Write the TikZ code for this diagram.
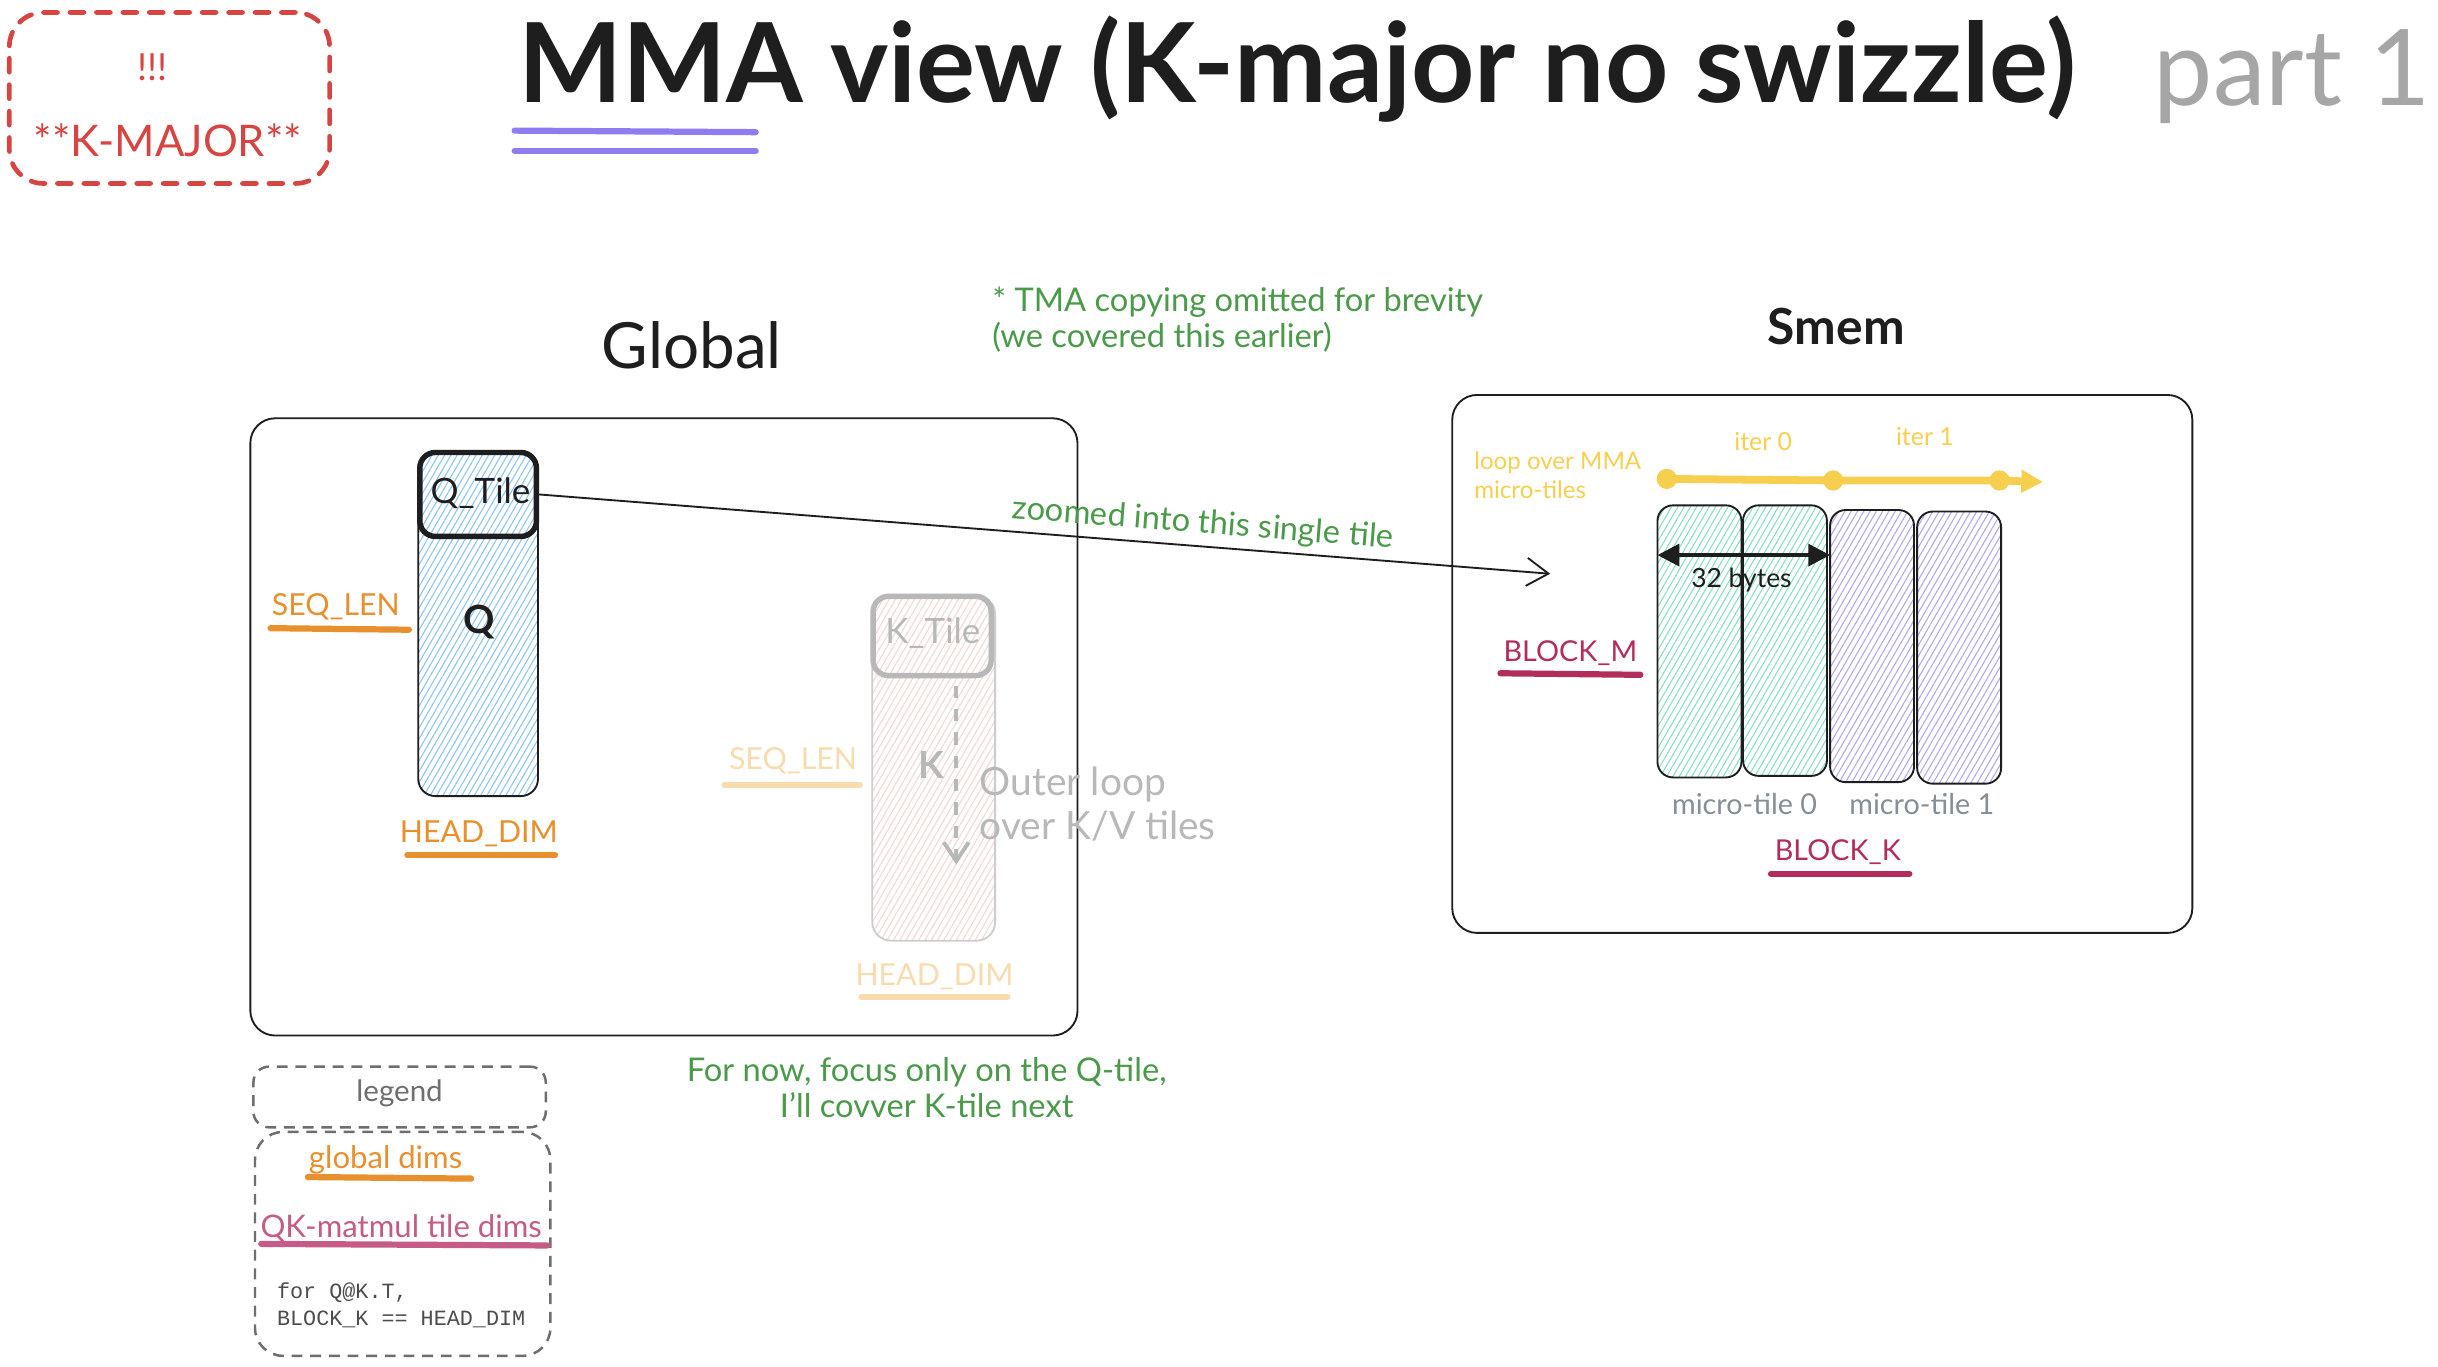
\documentclass[tikz,border=0pt]{standalone}
\usepackage{fontspec}
\setmainfont{Lato}
\newfontfamily\monof{Liberation Mono}
\usetikzlibrary{arrows.meta,patterns.meta,calc}
\definecolor{redc}{HTML}{D64541}
\definecolor{purplec}{HTML}{8E7CF0}
\definecolor{orangec}{HTML}{E8902E}
\definecolor{orangefade}{HTML}{F8DCB0}
\definecolor{crimsonc}{HTML}{B12E5C}
\definecolor{pinkc}{HTML}{C45C85}
\definecolor{greenc}{HTML}{4A9A4A}
\definecolor{yellowc}{HTML}{F7CF4F}
\definecolor{grayc}{HTML}{868E96}
\definecolor{fadec}{HTML}{B8B8B8}
\definecolor{partc}{HTML}{A6A6A6}
\definecolor{legc}{HTML}{6E6E6E}
\definecolor{inkc}{HTML}{1E1E1E}
\definecolor{hblue}{HTML}{8CC4F5}
\definecolor{hpink}{HTML}{F7D6D6}
\definecolor{hgreen}{HTML}{88E0C4}
\definecolor{hpurple}{HTML}{B2A8F2}
\newcommand\fsz[2]{\fontsize{#1}{#2}\selectfont}
\begin{document}
\begin{tikzpicture}[x=1pt,y=-1pt,
  txt/.style={inner sep=0pt, text=inkc},
  box/.style={draw=inkc, line width=1.2pt, inner sep=0pt},
  hatch/.style={pattern={Lines[angle=60,distance=3.5pt,line width=0.7pt]}, pattern color=#1},
  uline/.style={line width=4pt, line cap=round},
  thinarrow/.style={draw=inkc, line width=1.2pt, -{Straight Barb[length=14pt,width=18pt,line width=1.2pt]}},
]
\useasboundingbox[fill=white] (0,0) rectangle (1568,879);

% --- K-MAJOR box
\node[draw=redc, line width=3pt, dash pattern=on 9pt off 8pt, line cap=round, rounded corners=22pt, minimum width=206pt, minimum height=110pt] (kmajor) at (109,63) {};
\node[txt, text=redc, font=\fsz{24}{28}] (bang) at (98,43) {!!!};
\node[txt, text=redc, font=\fsz{28}{32}] (kmaj) at (108,90) {**K-MAJOR**};

% --- title
\node[txt, anchor=base west, font=\bfseries\fsz{71}{75}] (title) at (333,66) {MMA view (K-major no swizzle)};
\node[txt, anchor=base west, text=partc, font=\fsz{68}{72}] (part) at (1385,68) {part 1};
\draw[uline, draw=purplec] (331,84) -- (486,85);
\draw[uline, draw=purplec] (331,97) -- (486,97);

% --- Global
\node[txt, font=\fsz{41}{44}] (globallbl) at (445,222) {Global};
\node[box, rounded corners=16pt, minimum width=532pt, minimum height=397pt] (global) at (427,467.5) {};

% Q column
\node[box, hatch=hblue, rounded corners=11pt, minimum width=77pt, minimum height=221pt] (qcol) at (307.5,401.5) {};
\node[draw=inkc, line width=3.5pt, rounded corners=10pt, minimum width=75pt, minimum height=54pt, inner sep=0pt] (qtile) at (307.5,318) {};
\node[txt, font=\fsz{22.5}{26}] (qtilelbl) at (309,317) {Q\_Tile};
\node[txt, font=\bfseries\fsz{25}{28}] (qlbl) at (308,400) {Q};
\node[txt, text=orangec, font=\fsz{19.5}{22}] (seqlen) at (216,390) {SEQ\_LEN};
\draw[uline, draw=orangec] (174,404) -- (263,405);
\node[txt, text=orangec, font=\fsz{19.5}{22}] (headdim) at (308,536) {HEAD\_DIM};
\draw[uline, draw=orangec] (262,550) -- (357,550);

% K column (faded)
\node[draw=fadec!70, line width=1.2pt, hatch=hpink, rounded corners=12pt, minimum width=79pt, minimum height=222pt, inner sep=0pt] (kcol) at (600.5,494) {};
\node[draw=fadec, line width=3.5pt, rounded corners=10pt, minimum width=76pt, minimum height=51pt, inner sep=0pt] (ktile) at (599.5,409) {};
\node[txt, text=fadec, font=\fsz{22.5}{26}] (ktilelbl) at (600,407) {K\_Tile};
\node[txt, text=fadec, font=\bfseries\fsz{24}{28}] (klbl) at (599,492) {K};
\coordinate (kloop0) at (615,441);
\coordinate (kloop1) at (615,556);
\draw[draw=fadec, line width=2.5pt, dash pattern=on 8pt off 7pt, -{Straight Barb[length=12pt,width=16pt,line width=2.5pt]}] (kloop0) -- (kloop1);
\node[txt, text=fadec, anchor=west, align=left, font=\fsz{25}{28}] (outer) at (630,517) {Outer loop\\over K/V tiles};
\node[txt, text=orangefade, font=\fsz{19.5}{22}] (seqlenk) at (510,489) {SEQ\_LEN};
\draw[uline, draw=orangefade] (466,505) -- (553,505);
\node[txt, text=orangefade, font=\fsz{19.5}{22}] (headdimk) at (601,628) {HEAD\_DIM};
\draw[uline, draw=orangefade] (554,641) -- (648,641);

% --- notes
\node[txt, text=greenc, anchor=west, align=left, font=\fsz{21}{23}] (tma) at (638,205.5) {* TMA copying omitted for brevity\\(we covered this earlier)};
\node[txt, text=greenc, align=center, font=\fsz{21}{23}] (fornow) at (596,699.5) {For now, focus only on the Q-tile,\\I'll covver K-tile next};

% --- Smem
\node[txt, font=\bfseries\fsz{32}{36}] (smemlbl) at (1181,210) {Smem};
\node[box, rounded corners=16pt, minimum width=476pt, minimum height=346pt] (smem) at (1172,427) {};
\node[txt, text=yellowc, anchor=west, align=left, font=\fsz{15.5}{19}] (loop) at (948,305.5) {loop over MMA\\micro-tiles};
\node[txt, text=yellowc, font=\fsz{16}{18}] (iter0) at (1134,284) {iter 0};
\node[txt, text=yellowc, font=\fsz{16}{18}] (iter1) at (1238,281) {iter 1};
\node[circle, fill=yellowc, minimum size=13pt, inner sep=0pt] (d0) at (1072,308) {};
\node[circle, fill=yellowc, minimum size=13pt, inner sep=0pt] (d1) at (1179,309) {};
\node[circle, fill=yellowc, minimum size=13pt, inner sep=0pt] (d2) at (1286,309) {};
\coordinate (yend) at (1314,310);
\draw[draw=yellowc, line width=5pt, -{Triangle[length=14pt,width=14pt]}] (d0.center) -- (d1.center) -- (d2.center) -- (yend);

\node[box, hatch=hgreen, rounded corners=10pt, minimum width=54pt, minimum height=175pt] (mt1) at (1093,412.5) {};
\node[box, hatch=hgreen, rounded corners=10pt, minimum width=54pt, minimum height=174pt] (mt2) at (1148,412) {};
\node[box, hatch=hpurple, rounded corners=10pt, minimum width=54pt, minimum height=175pt] (mt3) at (1204,415.5) {};
\node[box, hatch=hpurple, rounded corners=10pt, minimum width=54pt, minimum height=175pt] (mt4) at (1260,416.5) {};
\coordinate (b0) at (1066,357);
\coordinate (b1) at (1177,357);
\draw[draw=inkc, line width=2.5pt, {Triangle[length=14pt,width=14pt]}-{Triangle[length=14pt,width=14pt]}] (b0) -- (b1);
\node[txt, font=\fsz{17}{20}] (bytes) at (1120,373) {32 bytes};

\node[txt, text=crimsonc, font=\fsz{18.5}{22}] (blockm) at (1010,420) {BLOCK\_M};
\draw[uline, draw=crimsonc] (965,433) -- (1055,434);
\node[txt, text=grayc, font=\fsz{18.5}{20}] (mtl0) at (1122,517) {micro-tile 0};
\node[txt, text=grayc, font=\fsz{18.5}{20}] (mtl1) at (1236,517) {micro-tile 1};
\node[txt, text=crimsonc, font=\fsz{18.5}{22}] (blockk) at (1182,548) {BLOCK\_K};
\draw[uline, draw=crimsonc] (1139,562) -- (1228,562);

% zoom connector
\coordinate (zt) at (997,369);
\draw[thinarrow] (qtile.east) -- node[pos=0.655, sloped, above=4pt, inner sep=0pt, text=greenc, font=\fsz{21}{24}] (zoomlbl) {zoomed into this single tile} (zt);

% --- legend
\node[draw=legc, line width=1.6pt, dash pattern=on 7pt off 5pt, rounded corners=10pt, minimum width=188pt, minimum height=39pt, inner sep=0pt] (legbox) at (257,705.5) {};
\node[txt, text=legc, font=\fsz{19}{22}] (legend) at (257,703) {legend};
\node[draw=legc, line width=1.6pt, dash pattern=on 7pt off 5pt, rounded corners=18pt, minimum width=190pt, minimum height=144pt, inner sep=0pt] (legbox2) at (259,800) {};
\node[txt, text=orangec, font=\fsz{20}{22}] (gdims) at (248,746) {global dims};
\draw[uline, draw=orangec] (198,757) -- (303,758);
\node[txt, text=pinkc, font=\fsz{20}{22}] (qkdims) at (258,790) {QK-matmul tile dims};
\draw[uline, draw=pinkc] (168,800) -- (352,801);
\node[txt, text=legc!70!black, anchor=west, align=left, font=\monof\fsz{14}{17}] (fornote) at (178,839.5) {for Q@K.T,\\BLOCK\_K == HEAD\_DIM};
\end{tikzpicture}
\end{document}
